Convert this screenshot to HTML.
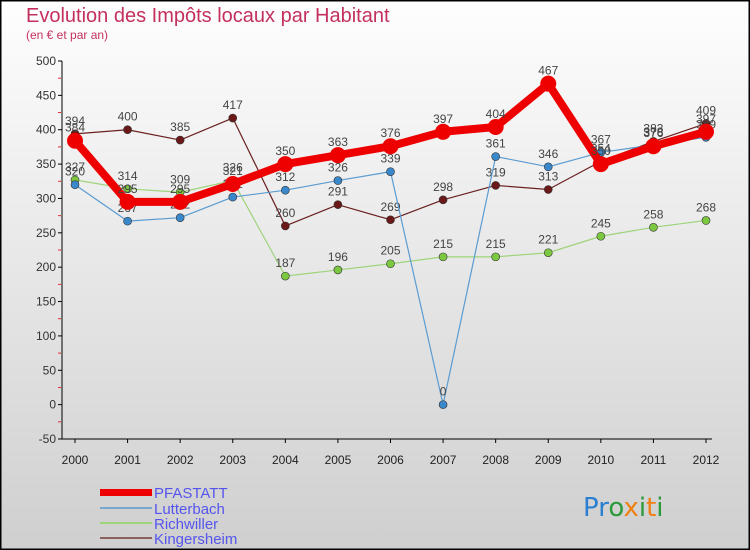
<!DOCTYPE html>
<html><head><meta charset="utf-8"><style>
body{margin:0;width:750px;height:550px;overflow:hidden}
svg{display:block;font-family:"Liberation Sans",sans-serif}
</style></head><body>
<svg id="c" width="750" height="550" xmlns="http://www.w3.org/2000/svg">
<defs><linearGradient id="bg" x1="0" y1="0" x2="0" y2="1"><stop offset="0" stop-color="#fefefe"/><stop offset="1" stop-color="#cfcfcf"/></linearGradient></defs>
<rect x="0.5" y="0.5" width="749" height="549" fill="url(#bg)" stroke="#000" stroke-width="2"/>
<text x="26" y="22" font-size="20" fill="#c4305e">Evolution des Impôts locaux par Habitant</text>
<text x="26" y="39" font-size="12" fill="#c4305e">(en € et par an)</text>
<g id="axes"></g><g id="series"></g>
<g>
<rect x="100" y="489" width="52" height="7" fill="#ee0000"/>
<line x1="100" y1="508" x2="152" y2="508" stroke="#7aa8cc" stroke-width="2"/>
<line x1="100" y1="523" x2="152" y2="523" stroke="#9ed47a" stroke-width="2"/>
<line x1="100" y1="538" x2="152" y2="538" stroke="#8a6060" stroke-width="2"/>
<g font-size="15" fill="#5555ee">
<text x="154" y="498">PFASTATT</text>
<text x="154" y="514">Lutterbach</text>
<text x="154" y="529">Richwiller</text>
<text x="154" y="544">Kingersheim</text>
</g></g>
<text x="583" y="516" font-size="26" font-family="'DejaVu Sans',sans-serif"><tspan fill="#2a7fd0">Pr</tspan><tspan fill="#2a9a3a">o</tspan><tspan fill="#f08010">x</tspan><tspan fill="#2a9a3a">i</tspan><tspan fill="#f08010">t</tspan><tspan fill="#2a9a3a">i</tspan></text>
</svg>
<script>
const years=["2000","2001","2002","2003","2004","2005","2006","2007","2008","2009","2010","2011","2012"];
const yTicks=[-50,0,50,100,150,200,250,300,350,400,450,500];
const pfastatt=[384,295,295,321,350,363,376,397,404,467,350,376,397];
const lutterbach=[320,267,272,302,312,326,339,0,361,346,367,378,389];
const richwiller=[327,314,309,326,187,196,205,215,215,221,245,258,268];
const kingersheim=[394,400,385,417,260,291,269,298,319,313,354,383,409];
const NS="http://www.w3.org/2000/svg";
const x0=75,x1=706,yTop=61,yBot=439,vMin=-50,vMax=500;
const X=i=>x0+(x1-x0)*i/(years.length-1);
const Y=v=>yBot-(v-vMin)*(yBot-yTop)/(vMax-vMin);
function el(t,a,p){const e=document.createElementNS(NS,t);for(const k in a)e.setAttribute(k,a[k]);p.appendChild(e);return e;}
const ax=document.getElementById('axes');
const yl=el('line',{x1:62,y1:yTop,x2:62,y2:yBot,stroke:'#000','stroke-width':1},ax);


const xl=el('line',{x1:62,y1:yBot,x2:712,y2:yBot,stroke:'#000','stroke-width':1},ax);


yTicks.forEach(v=>{const y=Y(v);
 el('line',{x1:58,y1:y,x2:62,y2:y,stroke:'#000'},ax);
 if(v<500) el('line',{x1:58,y1:Y(v+25),x2:61,y2:Y(v+25),stroke:'#e03030'},ax);
 const t=el('text',{x:56,y:y+4,'font-size':12,fill:'#333','text-anchor':'end'},ax);t.textContent=v;
 
 
});
years.forEach((yr,i)=>{const x=X(i);
 el('line',{x1:x,y1:yBot,x2:x,y2:yBot+4,stroke:'#000'},ax);
 const t=el('text',{x:x,y:yBot+25,'font-size':12,fill:'#222','text-anchor':'middle'},ax);t.textContent=yr;
 
 
});
const sg=document.getElementById('series');
function series(vals,name,color,dot,w,r){
 const g=el('g',{},sg);
 
 
 const pl=el('polyline',{points:vals.map((v,i)=>X(i)+','+Y(v)).join(' '),fill:'none',stroke:color,'stroke-width':w,'stroke-linejoin':'round'},g);
 
 
 vals.forEach((v,i)=>{
  const c=el('circle',{cx:X(i),cy:Y(v),r:r,fill:dot,stroke:'#333','stroke-width':r>5?0:0.6},g);
  
  
  const t=el('text',{x:X(i),y:Y(v)-9,'font-size':12,fill:'#444','text-anchor':'middle'},g);t.textContent=v;
  
  
 });
}
series(kingersheim,'kingersheim','#6a2020','#6a1818',1.2,4);
series(richwiller,'richwiller','#9ed47a','#7cc840',1.2,4);
series(lutterbach,'lutterbach','#5b9bd0','#3a88cc',1.2,4);
series(pfastatt,'pfastatt','#ee0000','#ee0000',8,8);
</script>
</body></html>
